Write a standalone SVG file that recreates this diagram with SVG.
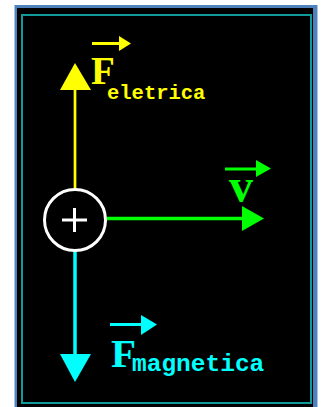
<svg xmlns="http://www.w3.org/2000/svg" width="322" height="407" viewBox="0 0 322 407">
<style>
.sub{font-family:"Liberation Mono","DejaVu Sans Mono",monospace;font-weight:bold}
.big{font-family:"Liberation Serif","DejaVu Serif",serif;font-weight:bold}
</style>
<rect x="0" y="0" width="322" height="407" fill="#ffffff"/>
<rect x="14" y="5" width="304" height="410" fill="#a9c4e6"/>
<rect x="15" y="5" width="302" height="410" fill="#4f81bd"/>
<rect x="17" y="8" width="296" height="410" fill="#000000"/>
<rect x="22" y="15" width="289" height="388" fill="none" stroke="#129a9a" stroke-width="2"/>
<g id="connectors">
  <line x1="75" y1="189" x2="75" y2="88" stroke="#ffff00" stroke-width="2.7"/>
  <polygon points="75,63 60,90 91,90" fill="#ffff00"/>
  <line x1="75" y1="251" x2="75" y2="356" stroke="#00ffff" stroke-width="3.5"/>
  <polygon points="75,382 60,354 91,354" fill="#00ffff"/>
  <line x1="106" y1="218.5" x2="244" y2="218.5" stroke="#00ff00" stroke-width="3.5"/>
  <polygon points="242,206 264,218.5 242,231" fill="#00ff00"/>
</g>
<g id="charge">
  <circle cx="75" cy="220" r="30.5" fill="#000" stroke="#ffffff" stroke-width="3"/>
  <line x1="62" y1="220" x2="87" y2="220" stroke="#ffffff" stroke-width="3"/>
  <line x1="74.5" y1="208" x2="74.5" y2="232" stroke="#ffffff" stroke-width="3"/>
</g>
<g id="label-eletrica" fill="#ffff00">
  <line x1="92" y1="43.5" x2="121" y2="43.5" stroke="#ffff00" stroke-width="3"/>
  <polygon points="119,36 131,43.5 119,51"/>
  <text class="big" x="91" y="84" font-size="39">F</text>
  <text class="sub" x="107" y="99" font-size="20.5">eletrica</text>
</g>
<g id="label-v" fill="#00ff00">
  <line x1="225" y1="169" x2="258" y2="169" stroke="#00ff00" stroke-width="3"/>
  <polygon points="256,160 271,168.5 256,177"/>
  <text class="big" x="229" y="202" font-size="48">v</text>
</g>
<g id="label-magnetica" fill="#00ffff">
  <line x1="110" y1="324.5" x2="143" y2="324.5" stroke="#00ffff" stroke-width="3"/>
  <polygon points="141,315 157,324.5 141,335"/>
  <text class="big" x="111" y="367" font-size="41">F</text>
  <text class="sub" x="132" y="371" font-size="24.5">magnetica</text>
</g>
</svg>
